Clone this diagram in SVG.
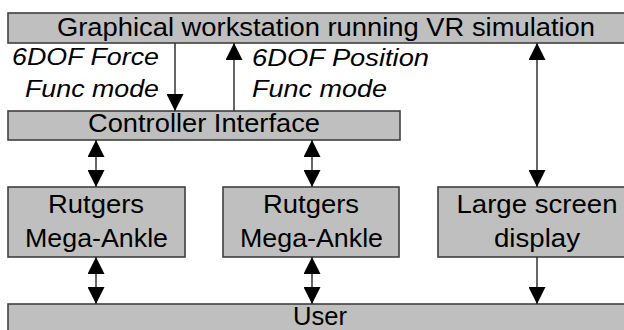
<svg xmlns="http://www.w3.org/2000/svg" width="624" height="330" viewBox="0 0 624 330">
<defs>
<marker id="ah" viewBox="0 0 17 17" refX="17" refY="8.5" markerWidth="17" markerHeight="17" markerUnits="userSpaceOnUse" orient="auto-start-reverse">
<path d="M0,0 L17,8.5 L0,17 Z" fill="#000"/>
</marker>
</defs>
<style>
.box{fill:#bfbfbf;stroke:#404040;stroke-width:1.6}
.t{font-family:"Liberation Sans",Arial,sans-serif;font-size:26px;fill:#000;text-anchor:middle}
.i{font-family:"Liberation Sans",Arial,sans-serif;font-size:24px;font-style:italic;fill:#000}
.c{stroke:#333;stroke-width:1.5;fill:none}
</style>
<rect width="624" height="330" fill="#fff"/>
<g id="workstation"><rect class="box" x="8" y="13" width="630" height="30"/><text class="t" x="326" y="36" textLength="538" lengthAdjust="spacingAndGlyphs">Graphical workstation running VR simulation</text></g>
<g id="controller"><rect class="box" x="8" y="111" width="392" height="29"/><text class="t" x="204" y="132" textLength="232" lengthAdjust="spacingAndGlyphs">Controller Interface</text></g>
<g id="ankle1"><rect class="box" x="8" y="187" width="177" height="70"/><text class="t" x="96" y="213" textLength="96" lengthAdjust="spacingAndGlyphs">Rutgers</text><text class="t" x="96.5" y="247" textLength="143" lengthAdjust="spacingAndGlyphs">Mega-Ankle</text></g>
<g id="ankle2"><rect class="box" x="223" y="187" width="176" height="70"/><text class="t" x="311" y="213" textLength="96" lengthAdjust="spacingAndGlyphs">Rutgers</text><text class="t" x="311.5" y="247" textLength="143" lengthAdjust="spacingAndGlyphs">Mega-Ankle</text></g>
<g id="display"><rect class="box" x="438" y="187" width="200" height="70"/><text class="t" x="537" y="213" textLength="161" lengthAdjust="spacingAndGlyphs">Large screen</text><text class="t" x="537" y="247" textLength="86" lengthAdjust="spacingAndGlyphs">display</text></g>
<g id="user"><rect class="box" x="8" y="304" width="630" height="40"/><text class="t" x="320" y="325" style="font-size:25px" textLength="54" lengthAdjust="spacingAndGlyphs">User</text></g>
<g id="labels">
<text class="i" x="12" y="65" textLength="147" lengthAdjust="spacingAndGlyphs">6DOF Force</text>
<text class="i" x="25" y="97" textLength="134" lengthAdjust="spacingAndGlyphs">Func mode</text>
<text class="i" x="252" y="66" textLength="177" lengthAdjust="spacingAndGlyphs">6DOF Position</text>
<text class="i" x="252" y="97" textLength="135" lengthAdjust="spacingAndGlyphs">Func mode</text>
</g>
<g id="connectors">
<line class="c" x1="175" y1="43" x2="175" y2="111" marker-end="url(#ah)"/>
<line class="c" x1="234" y1="111" x2="234" y2="43" marker-end="url(#ah)"/>
<line class="c" x1="537" y1="43" x2="537" y2="187" marker-start="url(#ah)" marker-end="url(#ah)"/>
<line class="c" x1="96" y1="140" x2="96" y2="187" marker-start="url(#ah)" marker-end="url(#ah)"/>
<line class="c" x1="312" y1="140" x2="312" y2="187" marker-start="url(#ah)" marker-end="url(#ah)"/>
<line class="c" x1="96" y1="257" x2="96" y2="304" marker-start="url(#ah)" marker-end="url(#ah)"/>
<line class="c" x1="312" y1="257" x2="312" y2="304" marker-start="url(#ah)" marker-end="url(#ah)"/>
<line class="c" x1="537" y1="257" x2="537" y2="304" marker-end="url(#ah)"/>
</g>
</svg>
